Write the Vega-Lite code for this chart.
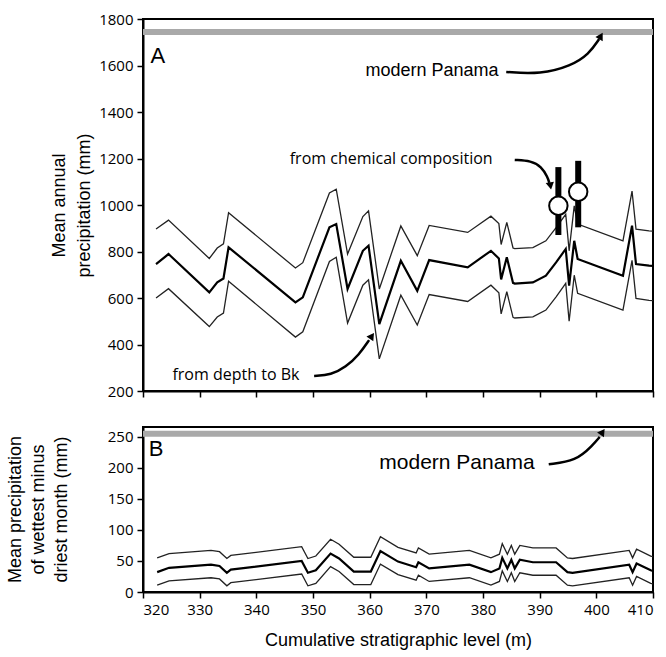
{
  "$schema": "https://vega.github.io/schema/vega-lite/v6.json",
  "background": "white",
  "padding": {"left": 5, "top": 11, "right": 5, "bottom": 5},
  "spacing": 26,
  "config": {
    "view": {"stroke": "black", "strokeWidth": 2},
    "axis": {"grid": false, "domainColor": "black", "domainWidth": 2, "tickColor": "black", "tickWidth": 1.5, "tickSize": 6, "labelFont": "Open Sans", "labelFontSize": 15, "labelColor": "black", "labelPadding": 4, "format": "d", "titleFont": "Liberation Sans", "titleFontSize": 18, "titleFontWeight": "normal", "titleColor": "black"}
  },
  "datasets": {
    "lineA": [
      {"m":322.3,"mean":746,"hi":897,"lo":600},
      {"m":324.5,"mean":789,"hi":935,"lo":640},
      {"m":331.7,"mean":624,"hi":770,"lo":477},
      {"m":333.1,"mean":667,"hi":815,"lo":518},
      {"m":334.2,"mean":684,"hi":833,"lo":535},
      {"m":335.1,"mean":818,"hi":967,"lo":672},
      {"m":346.9,"mean":581,"hi":729,"lo":432},
      {"m":348.2,"mean":603,"hi":752,"lo":455},
      {"m":352.9,"mean":904,"hi":1052,"lo":757},
      {"m":354.1,"mean":918,"hi":1068,"lo":775},
      {"m":356.1,"mean":639,"hi":789,"lo":492},
      {"m":358.8,"mean":803,"hi":950,"lo":655},
      {"m":359.8,"mean":825,"hi":975,"lo":678},
      {"m":361.7,"mean":488,"hi":639,"lo":338},
      {"m":365.5,"mean":760,"hi":910,"lo":612},
      {"m":368.4,"mean":631,"hi":782,"lo":484},
      {"m":370.5,"mean":763,"hi":912,"lo":615},
      {"m":377.3,"mean":732,"hi":882,"lo":585},
      {"m":381.4,"mean":803,"hi":952,"lo":655},
      {"m":382.8,"mean":770,"hi":920,"lo":622},
      {"m":383.2,"mean":680,"hi":830,"lo":532},
      {"m":384.2,"mean":775,"hi":925,"lo":627},
      {"m":385.3,"mean":665,"hi":815,"lo":517},
      {"m":385.6,"mean":662,"hi":812,"lo":514},
      {"m":388.8,"mean":667,"hi":817,"lo":519},
      {"m":391.1,"mean":696,"hi":846,"lo":548},
      {"m":392.9,"mean":753,"hi":903,"lo":605},
      {"m":394.6,"mean":811,"hi":960,"lo":663},
      {"m":395.2,"mean":653,"hi":803,"lo":500},
      {"m":396.1,"mean":846,"hi":996,"lo":698},
      {"m":396.7,"mean":768,"hi":918,"lo":620},
      {"m":404.7,"mean":696,"hi":846,"lo":548},
      {"m":406.3,"mean":911,"hi":1060,"lo":762},
      {"m":407.0,"mean":746,"hi":896,"lo":598},
      {"m":409.3,"mean":739,"hi":889,"lo":590},
      {"m":410,"mean":738,"hi":888,"lo":589}
    ],
    "lineB": [
      {"m":322.5,"mean":32,"hi":55,"lo":11},
      {"m":324.6,"mean":39,"hi":62,"lo":18},
      {"m":332,"mean":44,"hi":67,"lo":23},
      {"m":333.5,"mean":42,"hi":65,"lo":21},
      {"m":334.8,"mean":31,"hi":54,"lo":10},
      {"m":335.5,"mean":36,"hi":59,"lo":15},
      {"m":348,"mean":50,"hi":73,"lo":29},
      {"m":349.1,"mean":31,"hi":54,"lo":10},
      {"m":350.5,"mean":35,"hi":58,"lo":14},
      {"m":353.1,"mean":62,"hi":85,"lo":41},
      {"m":354.6,"mean":54,"hi":77,"lo":33},
      {"m":357.2,"mean":33,"hi":56,"lo":12},
      {"m":360.2,"mean":33,"hi":56,"lo":12},
      {"m":361.9,"mean":66,"hi":89,"lo":45},
      {"m":365.0,"mean":49,"hi":72,"lo":28},
      {"m":368.2,"mean":40,"hi":63,"lo":19},
      {"m":368.6,"mean":48,"hi":71,"lo":27},
      {"m":370.5,"mean":38,"hi":61,"lo":17},
      {"m":377.6,"mean":44,"hi":67,"lo":23},
      {"m":381.4,"mean":32,"hi":55,"lo":11},
      {"m":382.9,"mean":38,"hi":61,"lo":17},
      {"m":383.4,"mean":55,"hi":78,"lo":34},
      {"m":384.3,"mean":38,"hi":61,"lo":17},
      {"m":385.0,"mean":52,"hi":75,"lo":31},
      {"m":385.6,"mean":38,"hi":61,"lo":17},
      {"m":386.5,"mean":52,"hi":75,"lo":31},
      {"m":388.8,"mean":48,"hi":71,"lo":27},
      {"m":392.9,"mean":48,"hi":71,"lo":27},
      {"m":394.9,"mean":32,"hi":55,"lo":11},
      {"m":395.8,"mean":31,"hi":54,"lo":10},
      {"m":405.8,"mean":44,"hi":67,"lo":23},
      {"m":406.4,"mean":32,"hi":55,"lo":11},
      {"m":407.1,"mean":46,"hi":69,"lo":25},
      {"m":409.6,"mean":35,"hi":58,"lo":14},
      {"m":410,"mean":34,"hi":57,"lo":13}
    ],
    "arrowsA": [
      {"a":"p","m":384.1,"v":1572},
      {"a":"p","m":390.2,"v":1563},
      {"a":"p","m":395.5,"v":1598},
      {"a":"p","m":398.7,"v":1649},
      {"a":"p","m":400.5,"v":1714},
      {"a":"c","m":385.6,"v":1194},
      {"a":"c","m":388.5,"v":1190},
      {"a":"c","m":390.3,"v":1165},
      {"a":"c","m":391.4,"v":1120},
      {"a":"c","m":391.7,"v":1095},
      {"a":"d","m":350.2,"v":265},
      {"a":"d","m":353.2,"v":269},
      {"a":"d","m":355.8,"v":303},
      {"a":"d","m":358.1,"v":355},
      {"a":"d","m":359.9,"v":419}
    ],
    "headsA": [
      {"a":"p","m":400.8,"v":1727},
      {"a":"c","m":391.9,"v":1082},
      {"a":"d","m":360.4,"v":437}
    ],
    "arrowsB": [
      {"a":"b","m":391.6,"v":206},
      {"a":"b","m":396.4,"v":211},
      {"a":"b","m":399.4,"v":237},
      {"a":"b","m":400.6,"v":250}
    ],
    "headsB": [
      {"a":"b","m":401.1,"v":258}
    ]
  },
  "vconcat": [
    {
      "width": 510,
      "height": 372,
      "encoding": {
        "x": {"field": "m", "type": "quantitative", "scale": {"domain": [320, 410], "nice": false, "zero": false},
              "axis": {"values": [320,330,340,350,360,370,380,390,400,410], "labels": false, "title": null}},
        "y": {"field": "v", "type": "quantitative", "scale": {"domain": [200, 1800], "nice": false, "zero": false},
              "axis": {"values": [200,400,600,800,1000,1200,1400,1600,1800], "title": ["Mean annual", "precipitation (mm)"], "titleX": -75, "titleY": 186, "titleLineHeight": 25}}
      },
      "layer": [
        {"data": {"values": [{"m": 320, "m2": 410, "v": 1744}]}, "mark": {"type": "rule", "color": "#a9a9a9", "strokeWidth": 6}, "encoding": {"x2": {"field": "m2"}}},
        {"data": {"name": "lineA"}, "transform": [{"fold": ["hi", "lo"], "as": ["s", "v"]}], "mark": {"type": "line", "color": "#222222", "strokeWidth": 1.3}, "encoding": {"detail": {"field": "s"}}},
        {"data": {"name": "lineA"}, "transform": [{"fold": ["mean"], "as": ["s", "v"]}], "mark": {"type": "line", "color": "black", "strokeWidth": 2.2}},
        {"data": {"values": [{"m": 393.3, "v": 871, "v2": 1163}, {"m": 396.8, "v": 904, "v2": 1190}]}, "mark": {"type": "rule", "color": "black", "strokeWidth": 6}, "encoding": {"y2": {"field": "v2"}}},
        {"data": {"values": [{"m": 393.3, "v": 997}, {"m": 396.8, "v": 1057}]}, "mark": {"type": "point", "shape": "circle", "filled": true, "fill": "white", "stroke": "black", "strokeWidth": 2, "size": 340, "opacity": 1}},
        {"data": {"name": "arrowsA"}, "mark": {"type": "line", "color": "black", "strokeWidth": 2.5, "interpolate": "basis"}, "encoding": {"detail": {"field": "a"}}},
        {"data": {"name": "headsA"}, "transform": [{"filter": "datum.a == 'p'"}], "mark": {"type": "point", "shape": "triangle-up", "filled": true, "color": "black", "size": 70, "angle": 30, "opacity": 1}},
        {"data": {"name": "headsA"}, "transform": [{"filter": "datum.a == 'c'"}], "mark": {"type": "point", "shape": "triangle-up", "filled": true, "color": "black", "size": 70, "angle": 170, "opacity": 1}},
        {"data": {"name": "headsA"}, "transform": [{"filter": "datum.a == 'd'"}], "mark": {"type": "point", "shape": "triangle-up", "filled": true, "color": "black", "size": 70, "angle": 35, "opacity": 1}},
        {"data": {"values": [{"m": 322.6, "v": 1641, "t": "A"}]}, "mark": {"type": "text", "font": "Liberation Sans", "fontSize": 22, "align": "center", "baseline": "middle", "color": "black"}, "encoding": {"text": {"field": "t"}}},
        {"data": {"values": [{"m": 371, "v": 1576, "t": "modern Panama"}]}, "mark": {"type": "text", "font": "Liberation Sans", "fontSize": 18, "align": "center", "baseline": "middle", "color": "black"}, "encoding": {"text": {"field": "t"}}},
        {"data": {"values": [{"m": 363.8, "v": 1198, "t": "from chemical composition"}, {"m": 336.4, "v": 269, "t": "from depth to Bk"}]}, "mark": {"type": "text", "font": "Open Sans", "fontSize": 16, "align": "center", "baseline": "middle", "color": "black"}, "encoding": {"text": {"field": "t"}}}
      ]
    },
    {
      "width": 510,
      "height": 165,
      "encoding": {
        "x": {"field": "m", "type": "quantitative", "scale": {"domain": [320, 410], "nice": false, "zero": false},
              "axis": {"values": [320,330,340,350,360,370,380,390,400,410], "title": "Cumulative stratigraphic level (m)", "titlePadding": 14}},
        "y": {"field": "v", "type": "quantitative", "scale": {"domain": [0, 266], "nice": false, "zero": false},
              "axis": {"values": [0,50,100,150,200,250], "title": ["Mean precipitation", "of wettest minus", "driest month (mm)"], "titleX": -119, "titleY": 82, "titleLineHeight": 23}}
      },
      "layer": [
        {"data": {"values": [{"m": 320, "m2": 410, "v": 255}]}, "mark": {"type": "rule", "color": "#a9a9a9", "strokeWidth": 6}, "encoding": {"x2": {"field": "m2"}}},
        {"data": {"name": "lineB"}, "transform": [{"fold": ["hi", "lo"], "as": ["s", "v"]}], "mark": {"type": "line", "color": "#222222", "strokeWidth": 1.3}, "encoding": {"detail": {"field": "s"}}},
        {"data": {"name": "lineB"}, "transform": [{"fold": ["mean"], "as": ["s", "v"]}], "mark": {"type": "line", "color": "black", "strokeWidth": 2.2}},
        {"data": {"name": "arrowsB"}, "mark": {"type": "line", "color": "black", "strokeWidth": 2.5, "interpolate": "basis"}, "encoding": {"detail": {"field": "a"}}},
        {"data": {"name": "headsB"}, "mark": {"type": "point", "shape": "triangle-up", "filled": true, "color": "black", "size": 70, "angle": 35, "opacity": 1}},
        {"data": {"values": [{"m": 322.3, "v": 231, "t": "B"}]}, "mark": {"type": "text", "font": "Liberation Sans", "fontSize": 22, "align": "center", "baseline": "middle", "color": "black"}, "encoding": {"text": {"field": "t"}}},
        {"data": {"values": [{"m": 375.4, "v": 208, "t": "modern Panama"}]}, "mark": {"type": "text", "font": "Liberation Sans", "fontSize": 21, "align": "center", "baseline": "middle", "color": "black"}, "encoding": {"text": {"field": "t"}}}
      ]
    }
  ]
}
